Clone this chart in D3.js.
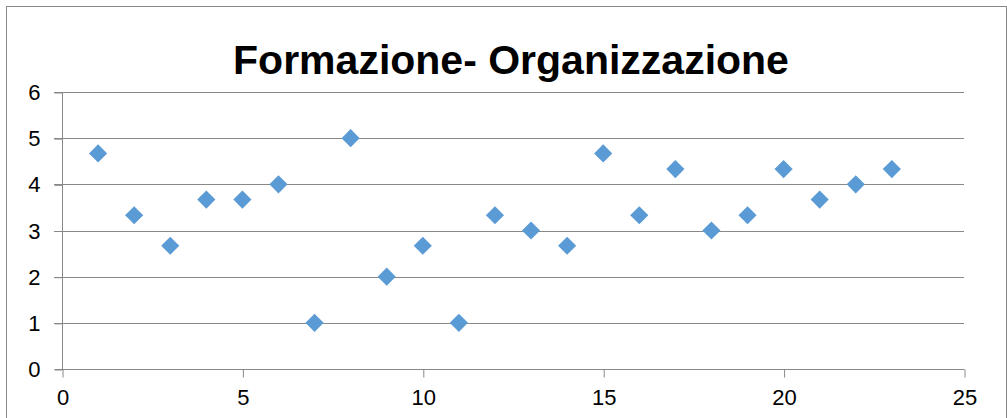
<!DOCTYPE html>
<html>
<head>
<meta charset="utf-8">
<script src="https://cdn.jsdelivr.net/npm/d3@7"></script>
<style>
  body { margin: 0; background: #fff; }
  svg text { font-family: "Liberation Sans", Arial, sans-serif; fill: #000; }
</style>
</head>
<body>
<svg id="chart" width="1007" height="418"></svg>
<script>
var xs = [1, 2, 3, 4, 5, 6, 7, 8, 9, 10, 11, 12, 13, 14, 15, 16, 17, 18, 19, 20, 21, 22, 23];
var ys = [4.67, 3.33, 2.67, 3.67, 3.67, 4, 1, 5, 2, 2.67, 1, 3.33, 3, 2.67, 4.67, 3.33, 4.33, 3, 3.33, 4.33, 3.67, 4, 4.33];
var xTicks = [0, 5, 10, 15, 20, 25];
var yTicks = [0, 1, 2, 3, 4, 5, 6];
var title = "Formazione- Organizzazione";

var svg = d3.select("#chart");

// chart frame
svg.append("rect")
  .attr("x", 6.5).attr("y", 6.5)
  .attr("width", 1000).attr("height", 430)
  .attr("fill", "none").attr("stroke", "#888").attr("stroke-width", 1);

var pLeft = 62, pRight = 964, pTop = 92, pBottom = 369;

var x = d3.scaleLinear().domain([0, 25]).range([pLeft, pRight]);
var y = d3.scaleLinear().domain([0, 6]).range([pBottom, pTop]);

// grid
svg.append("g").selectAll("line")
  .data(yTicks.filter(function(d) { return d > 0; }))
  .enter().append("line")
  .attr("x1", pLeft - 8).attr("x2", pRight)
  .attr("y1", function(d) { return Math.round(y(d)) + 0.5; })
  .attr("y2", function(d) { return Math.round(y(d)) + 0.5; })
  .attr("stroke", "#888").attr("stroke-width", 1);

// axes
var yAxis = svg.append("g")
  .attr("transform", "translate(" + (pLeft + 0.5) + ",0.5)")
  .call(d3.axisLeft(y).tickValues(yTicks).tickFormat(d3.format("d")).tickSize(8).tickPadding(14));
var xAxis = svg.append("g")
  .attr("transform", "translate(0.5," + (pBottom + 0.5) + ")")
  .call(d3.axisBottom(x).tickValues(xTicks).tickFormat(d3.format("d")).tickSize(8).tickPadding(12));

[xAxis, yAxis].forEach(function(a) {
  a.select(".domain").attr("stroke", "#888");
  a.selectAll(".tick line").attr("stroke", "#888");
  a.selectAll(".tick text").style("font-size", "22px").attr("fill", "#000");
});
yAxis.select(".domain").attr("d", "M0," + pTop + "V" + pBottom);
xAxis.select(".domain").attr("d", "M" + (pLeft - 8) + ",0H" + pRight);

// title
svg.append("text")
  .attr("x", 511).attr("y", 74)
  .attr("text-anchor", "middle")
  .style("font-size", "41px").style("font-weight", "bold")
  .text(title);

// points
var diamond = d3.symbol().type(d3.symbolDiamond2).size(210);
svg.append("g").selectAll("path")
  .data(xs.map(function(d, i) { return [d, ys[i]]; }))
  .enter().append("path")
  .attr("d", diamond)
  .attr("transform", function(d) { return "translate(" + x(d[0]) + "," + y(d[1]) + ")"; })
  .attr("fill", "#5B9BD5");
</script>
</body>
</html>
